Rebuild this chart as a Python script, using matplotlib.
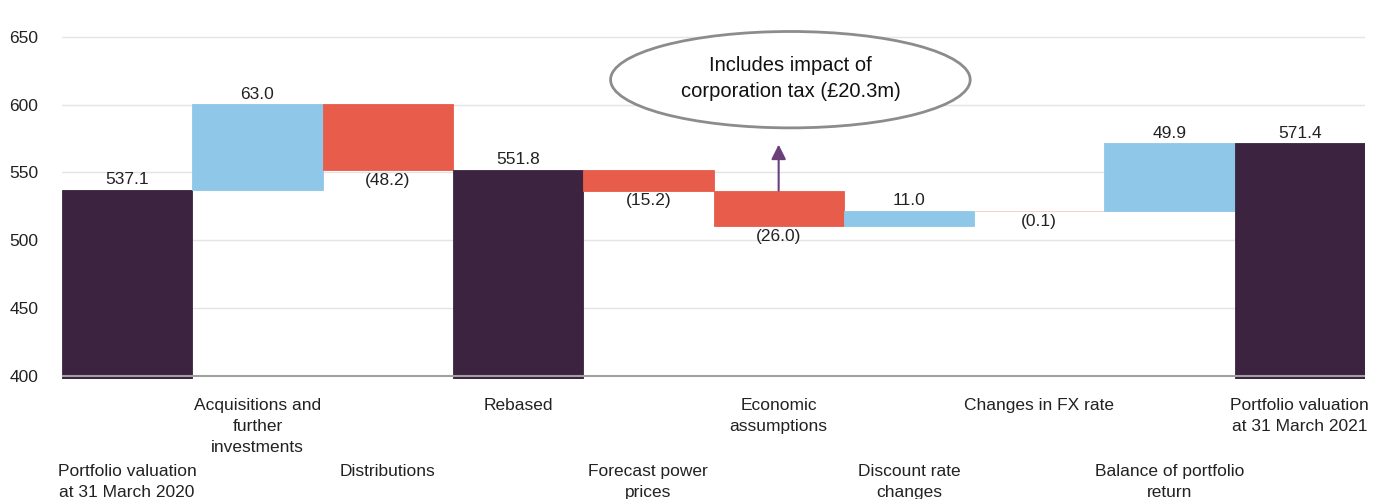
import matplotlib
matplotlib.use('agg')
import matplotlib.pyplot as plt
from matplotlib.patches import Ellipse
import numpy as np

plt.rcParams['font.family'] = ['Liberation Sans', 'DejaVu Sans']

categories = [
    'Portfolio valuation\nat 31 March 2020',
    'Acquisitions and\nfurther\ninvestments',
    'Distributions',
    'Rebased',
    'Forecast power\nprices',
    'Economic\nassumptions',
    'Discount rate\nchanges',
    'Changes in FX rate',
    'Balance of portfolio\nreturn',
    'Portfolio valuation\nat 31 March 2021',
]
# totals are None for movement bars, values for total bars
totals = [537.1, None, None, 551.8, None, None, None, None, None, 571.4]
changes = [None, 63.0, -48.2, None, -15.2, -26.0, 11.0, -0.1, 49.9, None]
callout_text = 'Includes impact of\ncorporation tax (£20.3m)'

DARK = '#3C2340'
BLUE = '#8FC7E8'
RED = '#E85C4B'
PURPLE = '#6B3F7A'

fig = plt.figure(figsize=(13.74, 4.99), dpi=100)
ax = fig.add_axes([62 / 1374, 120 / 499, 1303 / 1374, 379 / 499])
ax.set_xlim(-0.5, 9.5)
ax.set_ylim(397.8, 677)

floor = ax.get_ylim()[0]
running = 0
x = np.arange(len(categories))
for i in x:
    if totals[i] is not None:
        running = totals[i]
        ax.bar(i, running - floor, bottom=floor, width=1.0, color=DARK,
               edgecolor=DARK, linewidth=0.6, zorder=2)
        ax.annotate(f'{running:.1f}', (i, running), xytext=(0, 2),
                    textcoords='offset points', ha='center', va='bottom',
                    fontsize=12.5, color='#222222')
    else:
        d = changes[i]
        start = running
        running = running + d
        lo, hi = min(start, running), max(start, running)
        c = BLUE if d > 0 else RED
        ax.bar(i, hi - lo, bottom=lo, width=1.0, color=c,
               edgecolor='#F2C9C2' if abs(d) < 1 else c,
               linewidth=0.6, zorder=2)
        if d > 0:
            ax.annotate(f'{d:.1f}', (i, hi), xytext=(0, 2),
                        textcoords='offset points', ha='center', va='bottom',
                        fontsize=12.5, color='#222222')
        else:
            ax.annotate(f'({-d:.1f})', (i, lo), xytext=(0, -2),
                        textcoords='offset points', ha='center', va='top',
                        fontsize=12.5, color='#222222')

# category labels in two staggered rows
for i in x:
    off = -14 if i % 2 == 1 else -61
    ax.annotate(categories[i], (i, 0), xycoords=('data', 'axes fraction'),
                xytext=(0, off), textcoords='offset points',
                ha='center', va='top', fontsize=12.5, color='#222222',
                linespacing=1.5, annotation_clip=False)

ax.set_yticks([400, 450, 500, 550, 600, 650])
ax.tick_params(axis='y', length=0, pad=17, labelsize=12.5, labelcolor='#222222')
ax.set_xticks([])
for s in ax.spines.values():
    s.set_visible(False)
for v in [450, 500, 550, 600, 650]:
    ax.axhline(v, color='#E4E4E4', linewidth=1, zorder=0)
ax.axhline(400, color='#A0A0A0', linewidth=1.5, zorder=3)

# callout for economic assumptions
top5 = totals[3] + changes[4]
ax.add_patch(Ellipse((5.09, 618.3), 2.76, 71, facecolor='white',
                     edgecolor='#8C8C8C', linewidth=2, zorder=4))
ax.text(5.09, 619, callout_text, ha='center', va='center', fontsize=14.5,
        color='#111111', linespacing=1.45, zorder=5)
ax.annotate('', xy=(5, 570.5), xytext=(5, top5),
            arrowprops=dict(arrowstyle='-|>', color=PURPLE, lw=1.5,
                            mutation_scale=22, shrinkA=0, shrinkB=0),
            zorder=5)

fig.savefig('out.png', dpi=100)
